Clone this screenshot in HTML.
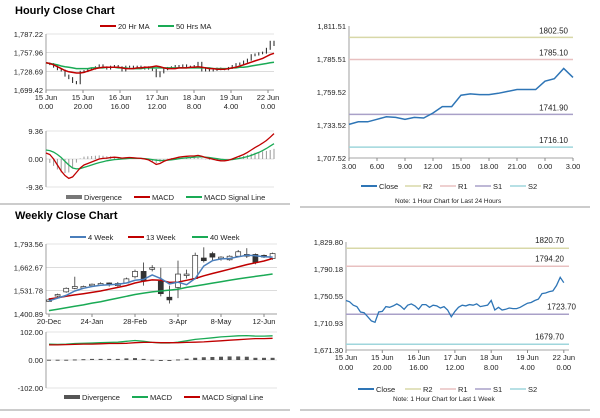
<!DOCTYPE html>
<html><head><meta charset="utf-8">
<style>
body{margin:0;background:#fff;font-family:"Liberation Sans",Arial,sans-serif;}
svg text{font-family:"Liberation Sans",Arial,sans-serif;}
</style></head>
<body>
<svg id="s" width="600" height="413" viewBox="0 0 600 413" xmlns="http://www.w3.org/2000/svg">
<text x="15" y="14" font-size="11" font-weight="bold">Hourly Close Chart</text>
<text x="15" y="219" font-size="11" font-weight="bold">Weekly Close Chart</text>
<line x1="0" y1="204" x2="290" y2="204" stroke="#999"/>
<line x1="300" y1="207" x2="590" y2="207" stroke="#999"/>
<line x1="0" y1="410" x2="290" y2="410" stroke="#999"/>
<line x1="300" y1="410" x2="590" y2="410" stroke="#999"/>
<g id="g"></g>
</svg>
<script>
// ---- Right top: 24h close ----
const hClose=[1734,1736,1736,1738,1740,1739.5,1738,1739.5,1739,1743,1748,1748,1757,1758,1757.5,1757.5,1758.5,1760,1761.5,1761.5,1761.5,1768,1770,1778,1771];
const hTicks=["3.00","6.00","9.00","12.00","15.00","18.00","21.00","0.00","3.00"];
const hYTicks=[1707.52,1733.52,1759.52,1785.51,1811.51];
const hLevels=[1802.50,1785.10,1741.90,1716.10];
// ---- Right bottom: 1 week close ----
const wkClose=[1744,1742,1737,1735,1727,1726,1720,1714,1712,1727,1728,1735,1734,1736,1739,1736,1731,1737,1739,1736,1731,1738,1738,1734,1737,1736,1733,1735,1730,1720,1728,1734,1737,1736,1738,1737,1739,1735,1736,1737,1744,1730,1734,1730,1731,1733,1732,1732,1734,1737,1740,1741,1744,1746,1754,1755,1757,1758,1766,1778,1770];
const wkTicks=[["15 Jun","0.00"],["15 Jun","20.00"],["16 Jun","16.00"],["17 Jun","12.00"],["18 Jun","8.00"],["19 Jun","4.00"],["22 Jun","0.00"]];
const wkYTicks=[1671.30,1710.93,1750.55,1790.18,1829.80];
const wkLevels=[1820.70,1794.20,1723.70,1679.70];
// ---- Left top: hourly candles + MAs ----
const lClose=[1741,1740,1736,1732,1730,1722,1718,1712,1710,1728,1729,1732,1733,1735,1738,1735,1733,1736,1737,1735,1730,1736,1736,1734,1736,1735,1733,1735,1731,1721,1727,1732,1734,1735,1737,1736,1738,1735,1736,1737,1742,1730,1733,1730,1731,1733,1732,1732,1734,1737,1740,1741,1744,1747,1754,1755,1757,1758,1764,1775,1770];
const ma20=[1742,1741,1739,1736,1733,1730,1728,1727,1726,1726,1727,1729,1731,1733,1734,1735,1735,1735,1735,1735,1734,1733,1733,1733,1734,1734,1735,1735,1736,1737,1736,1734,1733,1733,1733,1734,1734,1734,1735,1735,1736,1735,1734,1733,1733,1732,1732,1732,1733,1734,1735,1737,1739,1741,1743,1745,1747,1749,1752,1755,1757];
const ma50=[1742,1741,1740,1739,1737,1736,1735,1734,1733,1733,1733,1733,1734,1734,1734,1734,1735,1735,1735,1734,1734,1734,1733,1733,1733,1733,1734,1734,1734,1734,1734,1734,1734,1734,1734,1734,1734,1734,1734,1734,1734,1734,1734,1734,1733,1733,1733,1733,1733,1734,1734,1735,1735,1736,1737,1738,1739,1740,1741,1742,1743];
const macd=[2,1.5,0,-2,-4,-5.5,-6.5,-6,-4.5,-3,-2,-1.5,-1,-0.5,0,0.2,0.3,0.5,0.6,0.5,0.3,0.4,0.5,0.4,0.3,0.2,0,-0.3,-1,-1.8,-1.5,-0.8,-0.3,0,0.3,0.6,0.8,0.9,1,1,1.2,0.9,0.5,0.2,-0.1,-0.4,-0.6,-0.6,-0.4,0,0.5,1,1.5,2.2,3,3.8,4.5,5.3,6.2,7.3,8.5];
const macdSig=[3,2.8,2.3,1.5,0.5,-0.8,-2,-3,-3.3,-3.2,-2.8,-2.4,-2,-1.6,-1.2,-0.9,-0.6,-0.4,-0.2,-0.1,0,0.1,0.2,0.2,0.2,0.2,0.1,0,-0.2,-0.4,-0.5,-0.5,-0.4,-0.3,-0.1,0.1,0.3,0.4,0.5,0.6,0.7,0.7,0.6,0.5,0.3,0.1,-0.1,-0.2,-0.3,-0.2,0,0.2,0.5,0.8,1.2,1.7,2.2,2.8,3.5,4.3,5.1];
const lTicks=[["15 Jun","0.00"],["15 Jun","20.00"],["16 Jun","16.00"],["17 Jun","12.00"],["18 Jun","8.00"],["19 Jun","4.00"],["22 Jun","0.00"]];
const lYTicks=[1699.42,1728.69,1757.96,1787.22];
const lMYTicks=[-9.36,0,9.36];
// ---- Left bottom: weekly ----
const wOpen=[1475,1505,1525,1545,1550,1560,1565,1575,1560,1575,1610,1640,1660,1585,1495,1550,1620,1600,1715,1740,1720,1705,1725,1735,1735,1730,1712];
const wCloseW=[1480,1510,1545,1555,1555,1568,1572,1568,1572,1598,1640,1585,1660,1515,1480,1625,1625,1730,1700,1720,1720,1725,1750,1725,1690,1720,1740];
const wHigh=[1490,1515,1550,1610,1560,1572,1578,1578,1580,1605,1650,1690,1675,1660,1560,1700,1650,1745,1775,1750,1725,1730,1760,1770,1740,1735,1745];
const wLow=[1470,1495,1520,1540,1545,1555,1560,1555,1555,1590,1600,1560,1640,1500,1460,1490,1600,1595,1690,1700,1700,1700,1720,1715,1680,1715,1705];
const w4=[1475,1490,1505,1530,1545,1555,1562,1565,1568,1575,1590,1595,1620,1600,1570,1580,1565,1600,1670,1700,1710,1712,1722,1730,1728,1722,1720];
const w13=[1485,1492,1500,1508,1515,1522,1530,1540,1550,1560,1575,1585,1592,1590,1578,1580,1590,1600,1615,1628,1640,1652,1665,1678,1688,1698,1712];
const w40=[1420,1428,1436,1444,1452,1462,1470,1480,1490,1500,1510,1518,1525,1530,1535,1540,1550,1558,1566,1574,1582,1590,1598,1605,1612,1618,1625];
const wMacd=[58,57,58,60,61,62,63,64,65,68,71,68,64,62,62,65,70,75,78,81,84,86,88,89,87,87,88];
const wSig=[55,55,56,57,58,58,59,60,60,61,63,64,64,63,63,63,64,65,66,68,70,72,74,76,78,78,79];
const wDiv=[1,1,1,2,3,4,4,4,4,6,7,4,1,0,0,2,5,8,10,11,12,13,13,12,8,8,8];
const wTicks=["20-Dec","24-Jan","28-Feb","3-Apr","8-May","12-Jun"];
const wYTicks=[1400.89,1531.78,1662.67,1793.56];
const wMYTicks=[-102,0,102];

const NS="http://www.w3.org/2000/svg";
const G=document.getElementById('g');
function el(tag,attrs,parent){const e=document.createElementNS(NS,tag);for(const k in attrs)e.setAttribute(k,attrs[k]);(parent||G).appendChild(e);return e;}
function txt(x,y,s,size,anchor,parent){const t=el('text',{x:x,y:y,'font-size':size||8,'text-anchor':anchor||'start',fill:'#222'},parent);t.textContent=s;return t;}
function lin(d0,d1,r0,r1){return v=>r0+(v-d0)/(d1-d0)*(r1-r0);}
function fmt(v){return v.toLocaleString('en-US',{minimumFractionDigits:2,maximumFractionDigits:2});}
function poly(vals,xs,ys,color,w,name){const g=el('polyline',{points:vals.map((v,i)=>xs(i).toFixed(1)+','+ys(v).toFixed(1)).join(' '),fill:'none',stroke:color,'stroke-width':w});

return g;}
function yaxis(ticks,ys,x0,x1,grid,prefix){ticks.forEach((t,i)=>{const y=ys(t);
 if(grid){const l=el('line',{x1:x0,x2:x1,y1:y,y2:y,stroke:'#c8c8c8','stroke-width':0.6});}
 const tt=txt(x0-3,y+3,fmt(t),7.5,'end');});}
function legend(items,y){items.forEach(it=>{const [x,label,color,w]=it;
 const l=el('line',{x1:x,x2:x+16,y1:y-3,y2:y-3,stroke:color,'stroke-width':w||2});
 const t=txt(x+18,y,label,7.5);});}
function frame(x0,y0,x1,y1,prefix){const a=el('line',{x1:x0,x2:x0,y1:y0,y2:y1,stroke:'#888','stroke-width':0.8});
 const b=el('line',{x1:x0,x2:x1,y1:y1,y2:y1,stroke:'#888','stroke-width':0.8});}

// Right top
(function(){const x0=349,x1=573,y0=26,y1=158;
 const ys=lin(1707.52,1811.51,y1,y0),xs=lin(0,hClose.length-1,x0,x1);
 yaxis(hYTicks,ys,x0,x1,false,'hourly24');frame(x0,y0,x1,y1,'hourly24');
 hTicks.forEach((t,i)=>{const x=x0+i*(x1-x0)/(hTicks.length-1);el('line',{x1:x,x2:x,y1:y1,y2:y1+3,stroke:'#888'});const tt=txt(x,y1+11,t,7.5,'middle');});
 const cols=['#d8d8a8','#e8c0c0','#a9a0c8','#9fd6dc'];const names=['r2','r1','s1','s2'];
 hLevels.forEach((v,i)=>{const l=el('line',{x1:x0,x2:x1,y1:ys(v),y2:ys(v),stroke:cols[i],'stroke-width':1.5});
  const t=txt(x1-5,ys(v)-4,v.toFixed(2),8,'end');});
 poly(hClose,xs,ys,'#2e75b6',1.5,'hourly24-close-line');
 legend([[361,'Close','#2e75b6',2],[405,'R2','#d8d8a8',1.5],[440,'R1','#e8c0c0',1.5],[475,'S1','#a9a0c8',1.5],[510,'S2','#9fd6dc',1.5]],189);
 const n=txt(395,203,'Note: 1 Hour Chart for Last 24 Hours',6.5);
})();

// Right bottom
(function(){const x0=346,x1=569,y0=242,y1=350;
 const ys=lin(1671.30,1829.80,y1,y0),xs=i=>x0+i*2*36.3/20;
 yaxis(wkYTicks,ys,x0,x1,false,'weekly1h');frame(x0,y0,x1,y1,'weekly1h');
 wkTicks.forEach((t,i)=>{const x=x0+i*36.3;el('line',{x1:x,x2:x,y1:y1,y2:y1+3,stroke:'#888'});const a=txt(x,y1+10,t[0],7.5,'middle');txt(x,y1+20,t[1],7.5,'middle');});
 const cols=['#d8d8a8','#e8c0c0','#a9a0c8','#9fd6dc'];const names=['r2','r1','s1','s2'];
 wkLevels.forEach((v,i)=>{const l=el('line',{x1:x0,x2:x1,y1:ys(v),y2:ys(v),stroke:cols[i],'stroke-width':1.5});
  const t=txt(i==2?576:x1-5,ys(v)-5,v.toFixed(2),8,'end');});
 poly(wkClose,xs,ys,'#2e75b6',1.3,'weekly1h-close-line');
 legend([[358,'Close','#2e75b6',2],[405,'R2','#d8d8a8',1.5],[440,'R1','#e8c0c0',1.5],[475,'S1','#a9a0c8',1.5],[510,'S2','#9fd6dc',1.5]],392);
 const n=txt(393,401,'Note: 1 Hour Chart for Last 1 Week',6.5);
})();

// Left top
(function(){const x0=46,x1=274,y0=34,y1=90;
 const ys=lin(1699.42,1787.22,y1,y0),xs=lin(0,lClose.length-1,x0,x1);
 yaxis(lYTicks,ys,x0,x1,true,'hourly');frame(x0,y0,x1,y1,'hourly');
 lTicks.forEach((t,i)=>{const x=x0+i*37;el('line',{x1:x,x2:x,y1:y1,y2:y1+3,stroke:'#888'});const a=txt(x,y1+10,t[0],7.5,'middle');txt(x,y1+19,t[1],7.5,'middle');});
 lClose.forEach((v,i)=>{if(i==0)return;const p=lClose[i-1];const x=xs(i);
  const c=el('line',{x1:x,x2:x,y1:ys(Math.max(v,p))-1,y2:ys(Math.min(v,p))+1,stroke:'#222','stroke-width':1});
  
  });
 poly(ma50,xs,ys,'#1aaa55',1.5,'ma50-line');
 poly(ma20,xs,ys,'#c00000',1.5,'ma20-line');
 legend([[100,'20 Hr MA','#c00000',2],[158,'50 Hrs MA','#1aaa55',2]],29);
 const my0=131,my1=187;const mys=lin(-9.36,9.36,my1,my0);
 yaxis(lMYTicks,mys,x0,x1,true,'macd');
 const a=el('line',{x1:x0,x2:x0,y1:my0,y2:my1,stroke:'#888','stroke-width':0.8});
 macd.forEach((v,i)=>{const d=v-macdSig[i];const x=xs(i);const b=el('line',{x1:x,x2:x,y1:mys(0),y2:mys(d),stroke:'#999','stroke-width':1});
  
  });
 poly(macdSig,xs,mys,'#1aaa55',1.3,'macd-signal-line');
 poly(macd,xs,mys,'#c00000',1.3,'macd-line');
 legend([[66,'Divergence','#777',4],[134,'MACD','#c00000',2],[186,'MACD Signal Line','#1aaa55',2]],200);
})();

// Left bottom
(function(){const x0=46,x1=277,y0=244,y1=314;
 const ys=lin(1400.89,1793.56,y1,y0),xs=i=>49+i*8.6;
 yaxis(wYTicks,ys,x0,x1,true,'weekly');frame(x0,y0,x1,y1,'weekly');
 wTicks.forEach((t,i)=>{const x=xs(i*5);el('line',{x1:x,x2:x,y1:y1,y2:y1+3,stroke:'#888'});const a=txt(x,y1+10,t,7.5,'middle');});
 wOpen.forEach((o,i)=>{const c=wCloseW[i];const x=xs(i);
  const w=el('line',{x1:x,x2:x,y1:ys(wHigh[i]),y2:ys(wLow[i]),stroke:'#333','stroke-width':0.8});
  
  
  const top=ys(Math.max(o,c)),h=Math.max(1.5,Math.abs(ys(o)-ys(c)));
  const r=el('rect',{x:x-2.5,y:top,width:5,height:h,fill:c>=o?'#fff':'#333',stroke:'#333','stroke-width':0.7});
  
  });
 poly(w40,xs,ys,'#1aaa55',1.5,'w40-line');
 poly(w13,xs,ys,'#c00000',1.5,'w13-line');
 poly(w4,xs,ys,'#4a7ebb',1.5,'w4-line');
 legend([[70,'4 Week','#4a7ebb',2],[128,'13 Week','#c00000',2],[192,'40 Week','#1aaa55',2]],240);
 const my0=332,my1=388;const mys=lin(-102,102,my1,my0);
 yaxis(wMYTicks,mys,x0,x1,true,'wmacd');
 const a=el('line',{x1:x0,x2:x0,y1:my0,y2:my1,stroke:'#888','stroke-width':0.8});
 wDiv.forEach((v,i)=>{const x=xs(i);const b=el('rect',{x:x-2,y:mys(Math.max(v,0)),width:4,height:Math.max(1,Math.abs(mys(v)-mys(0))),fill:'#555'});
  
  });
 poly(wMacd,xs,mys,'#1aaa55',1.3,'weekly-macd-line');
 poly(wSig,xs,mys,'#c00000',1.3,'weekly-macd-signal-line');
 legend([[64,'Divergence','#555',4],[132,'MACD','#1aaa55',2],[184,'MACD Signal Line','#c00000',2]],400);
})();
</script>
</body></html>
